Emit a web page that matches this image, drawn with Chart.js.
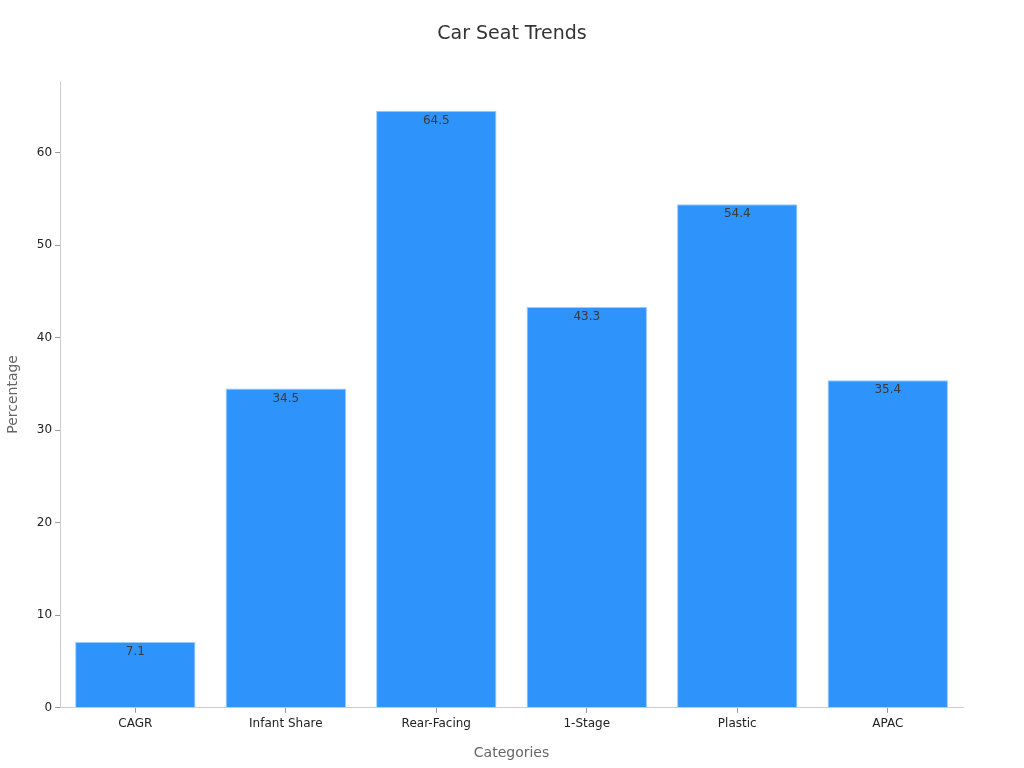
<!DOCTYPE html>
<html>
<head>
<meta charset="utf-8">
<script src="https://cdn.jsdelivr.net/npm/chart.js@4"></script>
<style>
  html, body { margin: 0; padding: 0; background: #fff; }
  #wrap { width: 1024px; height: 768px; }
</style>
</head>
<body>
<div id="wrap"><canvas id="chart"></canvas></div>
<script>
// Chart data
const chartTitle = 'Car Seat Trends';
const categories = ['CAGR', 'Infant Share', 'Rear-Facing', '1-Stage', 'Plastic', 'APAC'];
const percentages = [7.1, 34.5, 64.5, 43.3, 54.4, 35.4];
const yTicks = [0, 10, 20, 30, 40, 50, 60];

// Value labels drawn just inside the top of each bar
const barLabelPlugin = {
    id: 'barLabelPlugin',
    afterDatasetsDraw(chart) {
        const { ctx } = chart;
        const meta = chart.getDatasetMeta(0);
        ctx.save();
        ctx.font = '12px "DejaVu Sans"';
        ctx.fillStyle = '#3a3a3a';
        ctx.textAlign = 'center';
        ctx.textBaseline = 'middle';
        meta.data.forEach((bar, i) => {
            ctx.fillText(String(percentages[i]), bar.x, bar.y + 10);
        });
        ctx.restore();
    }
};

// Title centred on the whole canvas, not on the padded chart box
const centerTitlePlugin = {
    id: 'centerTitlePlugin',
    afterDraw(chart) {
        const { ctx, width } = chart;
        ctx.save();
        ctx.font = '19px "DejaVu Sans"';
        ctx.fillStyle = '#333';
        ctx.textAlign = 'center';
        ctx.textBaseline = 'middle';
        ctx.fillText(chartTitle, width / 2, 34);
        ctx.restore();
    }
};

const ctx = document.getElementById('chart').getContext('2d');
new Chart(ctx, {
    type: 'bar',
    data: {
        labels: categories,
        datasets: [{
            data: percentages,
            backgroundColor: '#2E93FA',
            borderColor: '#9CCBFB',
            borderWidth: 1,
            categoryPercentage: 0.8,
            barPercentage: 1.0
        }]
    },
    options: {
        responsive: true,
        maintainAspectRatio: false,
        animation: false,
        layout: { padding: { left: 1, right: 61, top: 81, bottom: 2 } },
        plugins: {
            legend: { display: false },
            tooltip: { enabled: false },
            title: { display: false }
        },
        scales: {
            x: {
                grid: { display: true, offset: false, drawOnChartArea: false, tickLength: 5, color: '#999' },
                border: { color: '#ccc' },
                ticks: { color: '#222', font: { family: 'DejaVu Sans', size: 12 }, padding: 4 },
                title: {
                    display: true,
                    text: 'Categories',
                    color: '#666',
                    font: { family: 'DejaVu Sans', size: 14 },
                    padding: { top: 10 }
                }
            },
            y: {
                min: 0,
                max: 67.725,
                afterBuildTicks(axis) {
                    axis.ticks = yTicks.map(v => ({ value: v }));
                },
                grid: { display: true, drawOnChartArea: false, tickLength: 5, color: '#999' },
                border: { color: '#ccc' },
                ticks: { color: '#222', font: { family: 'DejaVu Sans', size: 12 }, padding: 3 },
                title: {
                    display: true,
                    text: 'Percentage',
                    color: '#666',
                    font: { family: 'DejaVu Sans', size: 14 },
                    padding: { bottom: 12 }
                }
            }
        }
    },
    plugins: [barLabelPlugin, centerTitlePlugin]
});
</script>
</body>
</html>
